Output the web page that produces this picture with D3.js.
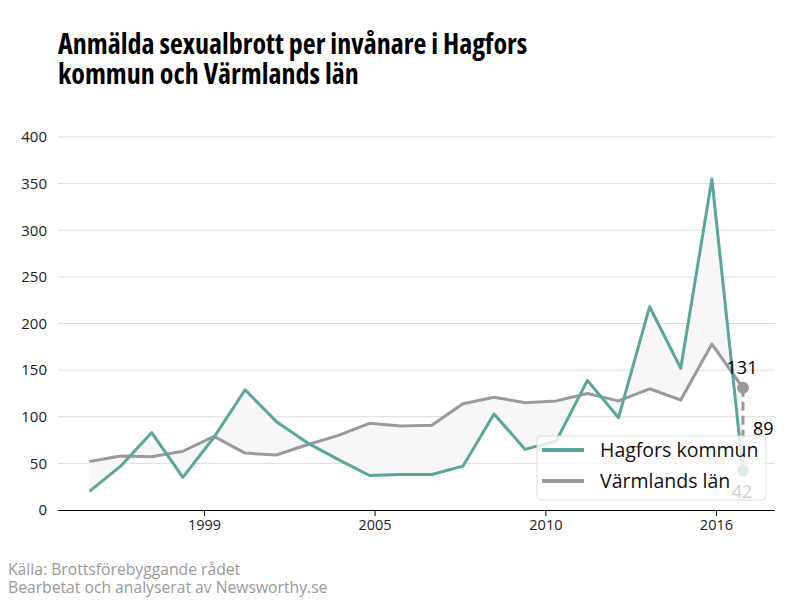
<!DOCTYPE html>
<html>
<head>
<meta charset="utf-8">
<script src="https://cdn.jsdelivr.net/npm/d3@7"></script>
<style>
  body { margin: 0; background: #fff; }
  svg { font-family: "Open Sans", sans-serif; }
  .title { font-family: "Open Sans", sans-serif; font-stretch: 75%; font-weight: 700; font-size: 28px; fill: #000; }
  .source { font-size: 15.7px; fill: #999; }
</style>
</head>
<body>
<svg width="800" height="600"></svg>
<script>
// data
const years = [1996, 1997, 1998, 1999, 2000, 2001, 2002, 2003, 2004, 2005, 2006,
               2007, 2008, 2009, 2010, 2011, 2012, 2013, 2014, 2015, 2016, 2017];
const hagfors = [20, 47, 83, 35, 78, 129, 95, 72, 54, 37, 38,
                 38, 47, 103, 65, 74, 139, 99, 218, 152, 355, 42];
const varmland = [52, 58, 57, 63, 79, 61, 59, 70, 80, 93, 90,
                  91, 114, 121, 115, 117, 125, 117, 130, 118, 178, 131];
const seriesNames = ["Hagfors kommun", "Värmlands län"];
const yTicks = [0, 50, 100, 150, 200, 250, 300, 350, 400];
// the original axis puts its labels between the yearly points
const xTickPos = [1999.68, 2005.16, 2010.65, 2016.13];
const xTickLabels = ["1999", "2005", "2010", "2016"];

const teal = "#5aa69a";
const grey = "#9a9a9a";

const svg = d3.select("svg");
const plotLeft = 58, plotRight = 775, plotTop = 137, plotBottom = 510;

const x = d3.scaleLinear().domain([1996, 2017]).range([89.5, 743]);
const y = d3.scaleLinear().domain([0, 400]).range([plotBottom, plotTop]);

// title
const title = svg.append("text").attr("class", "title").attr("x", 58).attr("y", 54);
title.append("tspan").attr("x", 58).text("Anmälda sexualbrott per invånare i Hagfors");
title.append("tspan").attr("x", 58).attr("dy", 30).text("kommun och Värmlands län");

// gridlines
svg.append("g").selectAll("line")
    .data(yTicks.filter(d => d > 0))
    .enter().append("line")
    .attr("x1", plotLeft).attr("x2", plotRight)
    .attr("y1", d => y(d)).attr("y2", d => y(d))
    .attr("stroke", "#ddd").attr("stroke-width", 1);

// y axis labels
const yAxis = svg.append("g")
    .attr("transform", `translate(${plotLeft},0)`)
    .call(d3.axisLeft(y).tickValues(yTicks).tickSize(0).tickPadding(11));
yAxis.select(".domain").remove();
yAxis.selectAll("text").style("font-size", "15px").style("font-family", "Open Sans").attr("fill", "#222");

// x axis
const xAxis = svg.append("g")
    .attr("transform", `translate(0,${plotBottom})`)
    .call(d3.axisBottom(x).tickValues(xTickPos).tickSize(6).tickPadding(4)
        .tickFormat((d, i) => xTickLabels[i]));
xAxis.select(".domain").attr("d", `M${plotLeft},0.5H${plotRight}`).attr("stroke", "#000");
xAxis.selectAll(".tick line").attr("stroke", "#000");
xAxis.selectAll("text").style("font-size", "14.5px").style("font-family", "Open Sans").attr("fill", "#222");

// area between the two series
const rows = years.map((yr, i) => ({ year: yr, a: hagfors[i], b: varmland[i] }));
svg.append("path")
    .datum(rows)
    .attr("fill", "#f7f7f7")
    .attr("d", d3.area().x(d => x(d.year)).y0(d => y(d.a)).y1(d => y(d.b)));

// lines
const line = key => d3.line().x(d => x(d.year)).y(d => y(d[key]));
svg.append("path").datum(rows)
    .attr("fill", "none").attr("stroke", grey).attr("stroke-width", 3)
    .attr("stroke-linejoin", "round").attr("d", line("b"));
svg.append("path").datum(rows)
    .attr("fill", "none").attr("stroke", teal).attr("stroke-width", 3)
    .attr("stroke-linejoin", "round").attr("d", line("a"));

// last year: dashed difference and dots
const last = rows[rows.length - 1];
svg.append("line")
    .attr("x1", x(last.year)).attr("x2", x(last.year))
    .attr("y1", y(last.b)).attr("y2", y(last.a))
    .attr("stroke", grey).attr("stroke-width", 3).attr("stroke-dasharray", "9,5");
svg.append("circle").attr("cx", x(last.year)).attr("cy", y(last.b)).attr("r", 6).attr("fill", grey);
svg.append("circle").attr("cx", x(last.year)).attr("cy", y(last.a)).attr("r", 6).attr("fill", teal);

svg.append("text").attr("x", x(last.year) - 1).attr("y", y(last.b) - 14)
    .attr("text-anchor", "middle").style("font-size", "18px").text(last.b);
svg.append("text").attr("x", x(last.year) + 10).attr("y", y((last.a + last.b) / 2) + 6)
    .style("font-size", "18px").text(last.b - last.a);
svg.append("text").attr("x", x(last.year) - 1).attr("y", y(last.a) + 27)
    .attr("text-anchor", "middle").style("font-size", "18px").text(last.a);

// legend
const legend = svg.append("g").attr("transform", "translate(537,436)");
legend.append("rect")
    .attr("width", 229).attr("height", 64).attr("rx", 4)
    .attr("fill", "rgba(255,255,255,0.8)").attr("stroke", "#ddd");
[teal, grey].forEach((c, i) => {
    const row = legend.append("g").attr("transform", `translate(0,${14 + i * 31})`);
    row.append("line").attr("x1", 5).attr("x2", 47).attr("stroke", c).attr("stroke-width", 4);
    row.append("text").attr("x", 63).attr("y", 7).style("font-size", "19.5px").attr("fill", "#111")
        .text(seriesNames[i]);
});

// source
svg.append("text").attr("class", "source").attr("x", 8).attr("y", 575).text("Källa: Brottsförebyggande rådet");
svg.append("text").attr("class", "source").attr("x", 8).attr("y", 593).text("Bearbetat och analyserat av Newsworthy.se");
</script>
</body>
</html>
